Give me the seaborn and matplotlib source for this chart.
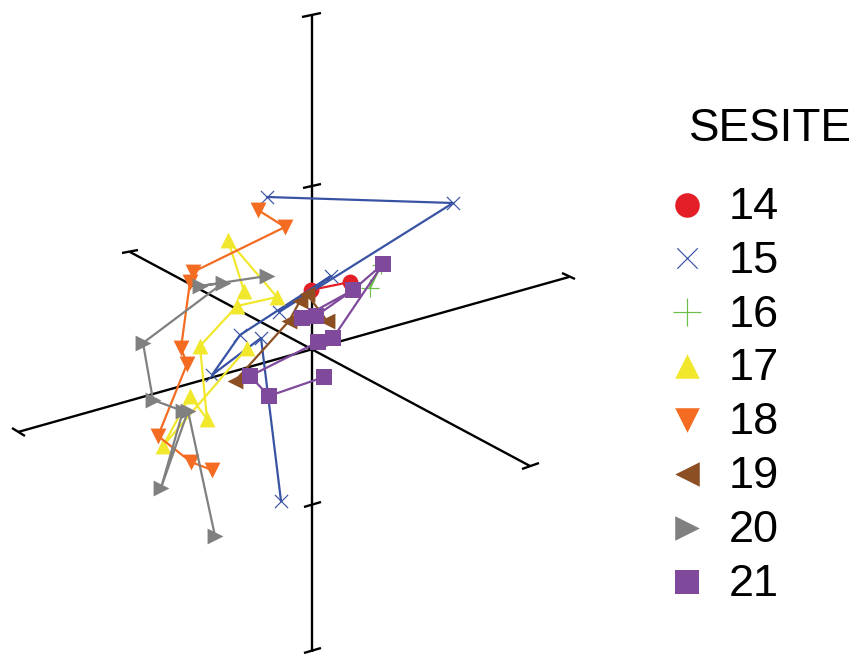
import numpy as np
import pandas as pd
import matplotlib
matplotlib.use("Agg")
import matplotlib.pyplot as plt
import seaborn as sns

# Projected ordination scores (horizontal, vertical)
site_14_x = [311, 350]
site_14_y = [290, 282]
site_15_x = [267, 453, 279, 331, 240, 212, 261, 281]
site_15_y = [197, 203, 312, 276, 335, 375, 338, 501]
site_16_x = [370, 381]
site_16_y = [288, 265]
site_17_x = [244, 228, 277, 237, 200, 207, 190, 163, 247]
site_17_y = [291, 240, 297, 306, 346, 419, 396, 446, 348]
site_18_x = [258, 285, 193, 190, 181, 187, 158, 191, 212]
site_18_y = [210, 227, 272, 282, 348, 364, 436, 462, 470]
site_19_x = [235, 289, 300, 307, 327]
site_19_y = [381, 321, 301, 294, 321]
site_20_x = [267, 200, 223, 143, 153, 183, 161, 188, 215]
site_20_y = [276, 286, 283, 343, 400, 411, 488, 411, 536]
site_21_x = [353, 302, 316, 353, 383, 333, 318, 250, 269, 324]
site_21_y = [290, 318, 316, 290, 264, 338, 342, 376, 396, 377]

site_labels = ["14", "15", "16", "17", "18", "19", "20", "21"]
site_colors = ["#E41E26", "#3953A4", "#6ABD45", "#F1E82E", "#F36C21", "#8B4F23", "#808080", "#7F4A9C"]
site_markers = ["o", "x", "+", "^", "v", "<", ">", "s"]

# Three axis lines of the projected frame and their tick strokes
axis_x = [[312, 312], [130, 530], [18, 569]]
axis_y = [[15, 652], [252, 466], [432, 277]]
tick_x = [[302, 321], [303, 321], [304, 321], [304, 321], [122, 138], [522, 539], [12, 25], [562, 575]]
tick_y = [[17, 13], [188, 184], [507, 502], [653, 648], [253, 250], [469, 463], [428, 436], [273, 279]]

xs = [site_14_x, site_15_x, site_16_x, site_17_x, site_18_x, site_19_x, site_20_x, site_21_x]
ys = [site_14_y, site_15_y, site_16_y, site_17_y, site_18_y, site_19_y, site_20_y, site_21_y]
df = pd.DataFrame({
    "x": np.concatenate(xs),
    "y": np.concatenate(ys),
    "SESITE": np.concatenate([[l] * len(v) for l, v in zip(site_labels, xs)]),
})

sns.set_style("white")
plt.rcParams["font.family"] = ["Liberation Sans", "DejaVu Sans"]

fig = plt.figure(figsize=(8.55, 6.54), dpi=100)
ax = fig.add_axes([0, 0, 1, 1])

for ax_x, ax_y in list(zip(axis_x, axis_y)) + list(zip(tick_x, tick_y)):
    ax.plot(ax_x, ax_y, color="black", lw=1.7, zorder=1, solid_capstyle="butt")

sizes = {"x": 90, "+": 170}
for i, (label, color, marker) in enumerate(zip(site_labels, site_colors, site_markers)):
    sub = df[df["SESITE"] == label]
    line_art = marker in sizes
    sns.lineplot(data=sub, x="x", y="y", color=color, estimator=None, sort=False,
                 lw=1.6, legend=False, ax=ax, zorder=2 + i)
    sns.scatterplot(data=sub, x="x", y="y", color=color, marker=marker, label=label,
                    s=sizes.get(marker, 130), linewidth=0.85 if line_art else 0,
                    legend=True, ax=ax, zorder=2 + i)

ax.set_xlim(0, 855)
ax.set_ylim(654, 0)
ax.set_xlabel("")
ax.set_ylabel("")
ax.set_xticks([])
ax.set_yticks([])
for s in ax.spines.values():
    s.set_visible(False)

leg = ax.legend(loc="upper left", bbox_to_anchor=(673.5 / 855, 1 - 130 / 654), frameon=False,
                title="SESITE", fontsize=32.5, title_fontsize=33, markerscale=1.55,
                labelspacing=0.228, handlelength=0.6, handleheight=0.92, handletextpad=0.63,
                borderpad=0, borderaxespad=0, alignment="left", labelcolor="black")
leg.get_title().set_color("black")
leg.get_title().set_position((15, 23))
fig.savefig("out.png", dpi=100)
